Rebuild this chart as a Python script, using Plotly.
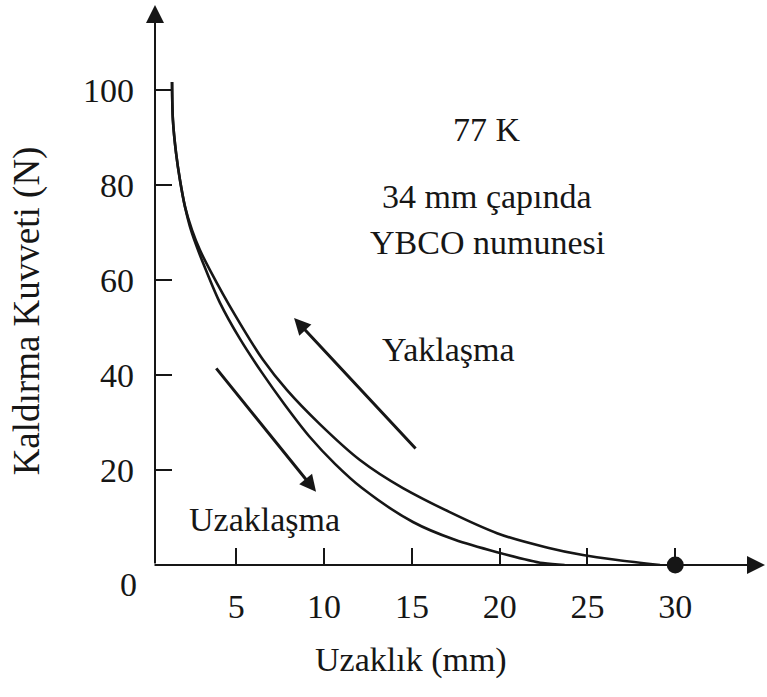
import plotly.graph_objects as go

# Approach branch (Yaklaşma): distance in mm, lift force in N
approach_x = [1.34, 1.39, 1.57, 1.79, 2.08, 2.48, 2.93, 3.50, 4.93, 6.52, 7.89,
              9.77, 12.04, 14.49, 19.85, 22.80, 24.74, 26.70, 29.13]
approach_y = [101.7, 93.7, 86.7, 81.1, 75.4, 70.5, 66.3, 62.1, 52.6, 43.2, 36.8,
              29.6, 22.1, 16.2, 6.7, 3.6, 2.1, 1.05, 0.0]

# Withdrawal branch (Uzaklaşma)
withdraw_x = [1.34, 1.39, 1.57, 1.79, 2.08, 2.42, 2.82, 3.27, 4.07, 5.21, 6.46,
              7.77, 9.20, 10.62, 12.16, 15.06, 17.45, 19.85, 22.46, 23.7]
withdraw_y = [101.7, 93.7, 86.7, 81.1, 75.4, 70.5, 66.3, 62.1, 55.2, 47.6, 40.5,
              33.7, 26.9, 21.3, 16.2, 9.05, 5.3, 2.7, 0.4, 0.0]

# End point of the approach on the distance axis
end_x = [30]
end_y = [0]

x_ticks = [5, 10, 15, 20, 25, 30]
y_ticks = [20, 40, 60, 80, 100]

x_range = [0.37, 35.11]
y_range = [0, 117.9]

FONT = "Liberation Serif"
INK = "#161616"
FS = 34

fig = go.Figure()
for xs, ys in [(approach_x, approach_y), (withdraw_x, withdraw_y)]:
    fig.add_trace(go.Scatter(
        x=xs, y=ys, mode="lines",
        line=dict(color=INK, width=2.6, shape="spline", smoothing=0.9),
        hoverinfo="skip", showlegend=False))

fig.add_trace(go.Scatter(
    x=end_x, y=end_y, mode="markers",
    marker=dict(color=INK, size=17), cliponaxis=False,
    hoverinfo="skip", showlegend=False))

annotations = []

# Axis lines with arrow heads
annotations.append(dict(xref="paper", yref="paper", x=0, y=1, ax=0, ay=560,
                        axref="pixel", ayref="pixel", text="", showarrow=True,
                        arrowhead=2, arrowsize=1.8, arrowwidth=2, arrowcolor=INK,
                        standoff=0))
annotations.append(dict(xref="paper", yref="paper", x=1, y=0, ax=-612, ay=0,
                        axref="pixel", ayref="pixel", text="", showarrow=True,
                        arrowhead=2, arrowsize=1.8, arrowwidth=2, arrowcolor=INK,
                        standoff=0))

# Direction arrows
annotations.append(dict(x=8.29, y=52.0, ax=15.29, ay=24.2, xref="x", yref="y",
                        axref="x", ayref="y", text="", showarrow=True,
                        arrowhead=2, arrowsize=1.1, arrowwidth=3, arrowcolor=INK,
                        standoff=0))
annotations.append(dict(x=9.54, y=15.4, ax=3.79, ay=41.7, xref="x", yref="y",
                        axref="x", ayref="y", text="", showarrow=True,
                        arrowhead=2, arrowsize=1.1, arrowwidth=3, arrowcolor=INK,
                        standoff=0))

def label(text, x, y, **kw):
    d = dict(x=x, y=y, xref="x", yref="y", text=text, showarrow=False,
             xanchor="center", yanchor="middle",
             font=dict(family=FONT, size=FS, color=INK))
    d.update(kw)
    annotations.append(d)

label("77 K", 19.28, 91.6)
label("34 mm çapında", 19.28, 77.5)
label("YBCO numunesi", 19.28, 67.8)
label("Yaklaşma", 17.11, 45.3)
label("Uzaklaşma", 6.63, 9.5)

# Origin label and axis titles
annotations.append(dict(xref="paper", yref="y", x=0, y=0, xshift=-27, yshift=-19,
                        xanchor="center", yanchor="middle",
                        text="0", showarrow=False,
                        font=dict(family=FONT, size=FS, color=INK)))
annotations.append(dict(xref="x", yref="paper", x=14.95, y=0, yshift=-95,
                        xanchor="center", yanchor="middle",
                        text="Uzaklık (mm)", showarrow=False,
                        font=dict(family=FONT, size=FS, color=INK)))
annotations.append(dict(xref="paper", yref="y", x=0, y=53.4, xshift=-128,
                        xanchor="center", yanchor="middle",
                        text="Kaldırma Kuvveti (N)", textangle=-90, showarrow=False,
                        font=dict(family=FONT, size=37, color=INK)))

fig.update_layout(
    width=767, height=697,
    margin=dict(l=155, r=2, t=5, b=132),
    paper_bgcolor="white", plot_bgcolor="white",
    annotations=annotations,
    xaxis=dict(range=x_range, tickvals=x_ticks, ticks="inside", ticklen=17,
               tickwidth=1.5, tickcolor=INK, showgrid=False, zeroline=False,
               showline=False, ticklabelstandoff=18,
               tickfont=dict(family=FONT, size=FS, color=INK)),
    yaxis=dict(range=y_range, tickvals=y_ticks, ticks="inside", ticklen=17,
               tickwidth=2, tickcolor=INK, showgrid=False, zeroline=False,
               showline=False, ticklabelstandoff=20,
               tickfont=dict(family=FONT, size=FS, color=INK)),
)

fig.write_html("out.html")
